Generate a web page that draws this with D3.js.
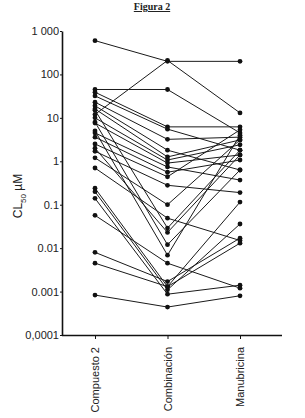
<!DOCTYPE html>
<html lang="es">
<head>
<meta charset="UTF-8">
<title>Figura 2</title>
<style>
  body { margin: 0; background: #fff; }
  svg { display: block; font-family: "Liberation Sans", Arial, sans-serif; }
  .axis path, .axis line { stroke: #111; }
  .axis text { fill: #222; }
</style>
</head>
<body>
<svg id="chart" width="305" height="418"></svg>
<script src="https://d3js.org/d3.v7.min.js"></script>
<script>
// categories and tick labels
var categories = ["Compuesto 2", "Combinación", "Manubricina"];
var tickValues = [1000, 100, 10, 1, 0.1, 0.01, 0.001, 0.0001];
var tickLabels = ["1 000", "100", "10", "1", "0.1", "0.01", "0.001", "0,0001"];

// one value per category for each cell line (CL50, µM)
var compuesto2  = [600, 12, 45, 39, 32, 23, 19, 16, 10, 7.6, 4.5, 3.6, 2.5, 1.7, 1.2, 0.7, 0.24, 0.2, 0.14, 0.057, 0.008, 0.0045, 0.00083, 15, 8, 5, 2];
var combinacion = [200, 210, 45, 6.2, 5.5, 3.2, 1.8, 1.26, 1.07, 0.91, 0.74, 0.56, 0.44, 0.28, 0.1, 0.049, 0.0013, 0.0011, 0.00087, 0.0045, 0.0017, 0.0013, 0.00044, 0.029, 0.012, 0.0069, 0.023];
var manubricina = [200, 13, 4.5, 6.2, 1.8, 3.6, 0.63, 3.1, 2.4, 1.4, 0.37, 1.07, 5.3, 0.19, 3.1, 0.015, 0.115, 0.036, 0.0014, 0.0012, 0.017, 0.013, 0.0008, 1.8, 0.63, 4.0, 1.4];

var rows = compuesto2.map(function(d, i) {
    return [compuesto2[i], combinacion[i], manubricina[i]];
});

var svg = d3.select("#chart");

var x = d3.scalePoint()
    .domain(categories)
    .range([95, 240]);

var y = d3.scaleLog()
    .domain([0.0001, 1000])
    .range([335, 31]);

// title
svg.append("text")
    .attr("x", 152)
    .attr("y", 10)
    .attr("text-anchor", "middle")
    .style("font-family", "'Liberation Serif', serif")
    .style("font-size", "10px")
    .style("font-weight", "bold")
    .style("text-decoration", "underline")
    .style("fill", "#222")
    .text("Figura 2");

// lines
var line = d3.line()
    .x(function(d, i) { return x(categories[i]); })
    .y(function(d) { return y(d); });

svg.append("g")
    .selectAll("path")
    .data(rows)
    .enter()
    .append("path")
    .attr("d", line)
    .attr("fill", "none")
    .attr("stroke", "#1a1a1a")
    .attr("stroke-width", 1);

// dots
var dots = [];
rows.forEach(function(r) {
    r.forEach(function(v, i) { dots.push({ cat: categories[i], v: v }); });
});
svg.append("g")
    .selectAll("circle")
    .data(dots)
    .enter()
    .append("circle")
    .attr("cx", function(d) { return x(d.cat); })
    .attr("cy", function(d) { return y(d.v); })
    .attr("r", 2.4)
    .attr("fill", "#111");

// y axis
var yAxis = d3.axisLeft(y)
    .tickValues(tickValues)
    .tickFormat(function(d, i) { return tickLabels[i]; })
    .tickSize(2)
    .tickSizeOuter(0);
var gy = svg.append("g")
    .attr("class", "axis")
    .attr("transform", "translate(62,0)")
    .call(yAxis);
gy.select(".domain").attr("stroke-width", 1.6);
gy.selectAll("text").style("font-size", "11px").attr("x", -3);

// x axis
var xAxis = d3.axisBottom(x)
    .tickSize(4)
    .tickSizeOuter(0);
var gx = svg.append("g")
    .attr("class", "axis")
    .attr("transform", "translate(0,335)")
    .call(xAxis);
gx.select(".domain")
    .attr("d", "M62,0.5H282")
    .attr("stroke-width", 1.6);
gx.selectAll("text")
    .style("font-size", "11px")
    .attr("transform", "rotate(-90)")
    .attr("text-anchor", "end")
    .attr("x", -12)
    .attr("y", 0)
    .attr("dy", "0.35em");

// y label
var yl = svg.append("text")
    .attr("transform", "translate(22,196) rotate(-90)")
    .attr("text-anchor", "middle")
    .style("font-size", "12px")
    .style("fill", "#222");
yl.append("tspan").text("CL");
yl.append("tspan").attr("dy", 4).style("font-size", "8px").text("50");
yl.append("tspan").attr("dy", -4).text(" µM");
</script>
</body>
</html>
